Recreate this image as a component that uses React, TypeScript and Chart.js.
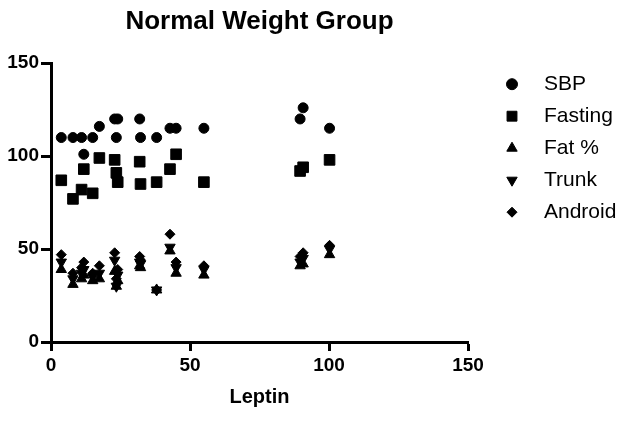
import React, { useEffect, useRef } from 'react';
import { Chart, registerables } from 'chart.js';
import { drawPoint } from 'chart.js/helpers';

Chart.register(...registerables);

const chartTitle = 'Normal Weight Group';
const xAxisTitle = 'Leptin';
const seriesLabels = ['SBP', 'Fasting', 'Fat %', 'Trunk', 'Android'];

const leptin = [3.7, 7.9, 11, 11.8, 15, 17.4, 22.9, 23.5, 24, 31.9, 32.2, 38, 42.8, 45, 55, 89.6, 90.7, 100.2];
const sbp = [110, 110, 110, 101, 110, 116, 120, 110, 120, 120, 110, 110, 115, 115, 115, 120, 126, 115];
const fasting = [87, 77, 82, 93, 80, 99, 98, 91, 86, 97, 85, 86, 93, 101, 86, 92, 94, 98];
const fatPct = [39, 31, 34, 36, 33, 34, 38, 30, 33, 41, 40, 28, 49, 37, 36, 41, 42, 47];
const trunk = [43, 34, 37, 39, 35, 37, 44, 30, 36, 43, 42, 28, 51, 40, 39, 43, 45, 50];
const android = [47, 37, 40, 43, 37, 41, 48, 34, 39, 46, 44, 28, 58, 43, 41, 46, 48, 52];

const xTicks = [0, 50, 100, 150];
const yTicks = [0, 50, 100, 150];

const FONT = '"Liberation Sans", Arial, Helvetica, sans-serif';

const toPoints = (ys: number[]) => ys.map((y, i) => ({ x: leptin[i], y }));

const sideLegend = {
  id: 'sideLegend',
  afterDraw(chart: any) {
    const { ctx, chartArea } = chart;
    ctx.save();
    chart.data.datasets.forEach((ds: any, i: number) => {
      const x = chartArea.right + 44;
      const y = chartArea.top + 21 + i * 32;
      ctx.fillStyle = '#000';
      ctx.strokeStyle = '#000';
      ctx.lineWidth = 1;
      drawPoint(ctx, { pointStyle: ds.pointStyle, radius: ds.legendRadius, rotation: ds.pointRotation || 0, borderWidth: 1 } as any, x, y);
      ctx.font = `21px ${FONT}`;
      ctx.textBaseline = 'middle';
      ctx.textAlign = 'left';
      ctx.fillText(ds.label, chartArea.right + 76, y);
    });
    ctx.restore();
  },
};

export default function App() {
  const ref = useRef<HTMLCanvasElement>(null);
  useEffect(() => {
    document.body.style.margin = '0';
    const mk = (label: string, data: number[], pointStyle: string, radius: number, legendRadius: number, rotation = 0) => ({
      label,
      data: toPoints(data),
      pointStyle,
      pointRadius: radius,
      pointRotation: rotation,
      legendRadius,
      backgroundColor: '#000',
      borderColor: '#000',
      pointBorderWidth: 1,
      showLine: false,
    });
    const chart = new Chart(ref.current as HTMLCanvasElement, {
      type: 'scatter',
      data: {
        datasets: [
          mk(seriesLabels[0], sbp, 'circle', 5, 5.5),
          mk(seriesLabels[1], fasting, 'rect', 7.5, 7),
          mk(seriesLabels[2], fatPct, 'triangle', 6, 6),
          mk(seriesLabels[3], trunk, 'triangle', 6, 6, 180),
          mk(seriesLabels[4], android, 'rectRot', 5, 5),
        ] as any,
      },
      options: {
        responsive: false,
        animation: false,
        layout: { padding: { left: 0, right: 161, top: 0, bottom: 0 } },
        plugins: {
          legend: { display: false },
          tooltip: { enabled: false },
          title: {
            display: true,
            text: chartTitle,
            fullSize: false,
            color: '#000',
            font: { family: FONT, size: 26, weight: 'bold' },
            padding: { top: 6, bottom: 26 },
          },
        },
        scales: {
          x: {
            type: 'linear',
            min: 0,
            max: 150,
            afterFit: (s: any) => { s.height = 81; },
            afterBuildTicks: (s: any) => { s.ticks = xTicks.map((v) => ({ value: v })); },
            grid: { display: true, drawOnChartArea: false, drawTicks: true, tickLength: 9, tickWidth: 3, tickColor: '#000', color: '#000' },
            border: { display: true, color: '#000', width: 3 },
            ticks: { color: '#000', padding: 3, font: { family: FONT, size: 19, weight: 'bold' }, maxRotation: 0 },
            title: { display: true, text: xAxisTitle, color: '#000', font: { family: FONT, size: 20, weight: 'bold' }, padding: { top: 0, bottom: 14 } },
          },
          y: {
            type: 'linear',
            min: 0,
            max: 150,
            afterFit: (s: any) => { s.width = 51; },
            afterBuildTicks: (s: any) => { s.ticks = yTicks.map((v) => ({ value: v })); },
            grid: { display: true, drawOnChartArea: false, drawTicks: true, tickLength: 10, tickWidth: 3, tickColor: '#000', color: '#000' },
            border: { display: true, color: '#000', width: 3 },
            ticks: { color: '#000', padding: 2, font: { family: FONT, size: 19, weight: 'bold' } },
          },
        },
      } as any,
      plugins: [sideLegend],
    });
    return () => chart.destroy();
  }, []);
  return (
    <div style={{ width: 629, height: 423, background: '#fff' }}>
      <canvas ref={ref} width={629} height={423} />
    </div>
  );
}
